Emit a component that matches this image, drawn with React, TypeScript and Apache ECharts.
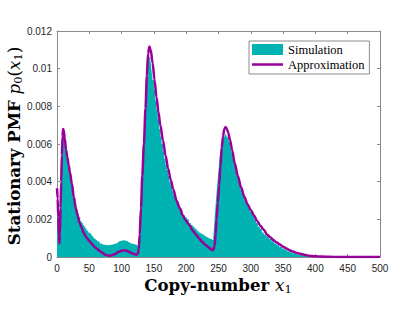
import React, { useEffect, useRef } from "react";
import * as echarts from "echarts";

// ---- Data ----
const xTickValues = [0, 50, 100, 150, 200, 250, 300, 350, 400, 450, 500];
const yTickLabels = ["0", "0.002", "0.004", "0.006", "0.008", "0.01", "0.012"];

// Approximation curve p0(x1)
const approxX = [
  0, 1, 2, 3, 3.7, 4.5, 5.5, 6.5, 7.5, 8.5, 9.5, 10.5, 12, 14, 16, 18, 20, 23, 26, 29,
  32, 35, 38, 41, 44, 47, 50, 54, 58, 62, 66, 70, 75, 80, 85, 90, 95, 100, 104, 108,
  112, 116, 120, 123, 125, 126.5, 128, 130, 132, 134.5, 137, 139, 141, 143, 145, 148, 151, 154, 157, 160,
  164, 168, 172, 176, 180, 185, 190, 195, 200, 205, 210, 215, 220, 225, 230, 235, 239, 242, 244, 245.5,
  247, 249, 251, 253, 255, 257, 259, 261, 263, 265, 268, 271, 275, 280, 285, 290, 295, 300, 305, 310,
  315, 320, 325, 330, 335, 340, 345, 350, 355, 360, 365, 370, 375, 380, 385, 390, 395, 400, 410, 420,
  440, 500,
];
const approxY = [
  0.00365, 0.0031, 0.0021, 0.0011, 0.00073, 0.0012, 0.0026, 0.004, 0.0054, 0.0064, 0.0068, 0.0067, 0.0063, 0.0057, 0.0053, 0.0049, 0.0045, 0.0039, 0.0032, 0.0026,
  0.0022, 0.0018, 0.00158, 0.0013, 0.00112, 0.00097, 0.00085, 0.00069, 0.00055, 0.00043, 0.00032, 0.00022, 0.00012, 0.00007, 0.00009, 0.00016, 0.00026, 0.00033, 0.00036, 0.00033,
  0.00026, 0.0002, 0.00015, 0.00012, 0.00016, 0.0004, 0.0012, 0.0026, 0.0043, 0.006, 0.0079, 0.0096, 0.0108, 0.01118, 0.011, 0.0103, 0.0094, 0.0085, 0.0077, 0.007,
  0.0062, 0.0054, 0.0047, 0.0041, 0.0036, 0.003, 0.0026, 0.0022, 0.0019, 0.0017, 0.0014, 0.0012, 0.00098, 0.0008, 0.00064, 0.0005, 0.0004, 0.00037, 0.0006, 0.0012,
  0.002, 0.0029, 0.0038, 0.0048, 0.0058, 0.0064, 0.0068, 0.0069, 0.0068, 0.0066, 0.0062, 0.0057, 0.005, 0.0043, 0.0037, 0.0032, 0.0028, 0.0025, 0.0022, 0.0019,
  0.00165, 0.00145, 0.0012, 0.00105, 0.0009, 0.00077, 0.00066, 0.00055, 0.00045, 0.00036, 0.00029, 0.00023, 0.00018, 0.00014, 0.0001, 0.00007, 0.00005, 0.00004, 0.00002, 0.00001,
  0, 0,
];

// Simulation histogram: bin start -> bin height
const histX = [
  0, 1, 2, 3, 4, 5, 6, 7, 8, 9, 10, 11, 12, 14, 16, 18, 20, 22, 24, 26,
  28, 30, 32, 34, 36, 38, 40, 42, 44, 46, 48, 50, 52, 54, 56, 58, 60, 62, 64, 66,
  68, 70, 72, 74, 76, 78, 80, 82, 84, 86, 88, 90, 92, 94, 96, 98, 100, 102, 104, 106,
  108, 110, 112, 114, 116, 118, 120, 122, 124, 126, 127, 128, 129, 130, 131, 132, 133, 134, 135, 136,
  137, 138, 139, 140, 141, 142, 143, 144, 145, 146, 147, 148, 150, 152, 154, 156, 158, 160, 162, 164,
  166, 168, 170, 172, 174, 176, 178, 180, 183, 186, 189, 192, 195, 198, 201, 204, 207, 210, 213, 216,
  219, 222, 225, 228, 231, 234, 237, 240, 242, 243, 244, 245, 246, 247, 248, 249, 250, 251, 252, 253,
  254, 255, 256, 258, 260, 262, 264, 266, 268, 270, 272, 274, 276, 278, 280, 282, 284, 286, 288, 290,
  293, 296, 299, 302, 305, 308, 311, 314, 317, 320, 324, 328, 332, 336, 340, 344, 348, 352, 356, 360,
  364, 368, 372, 376, 380, 385, 390, 395, 400, 410, 500,
];
const histY = [
  0.0036, 0.0029, 0.0018, 0.001, 0.0011, 0.0024, 0.004, 0.0053, 0.0062, 0.0066, 0.0066, 0.0064, 0.0061, 0.0056, 0.0052, 0.0047, 0.0043, 0.0039, 0.0035, 0.0031,
  0.0028, 0.0025, 0.0023, 0.0021, 0.0019, 0.0018, 0.0017, 0.0016, 0.0015, 0.0014, 0.0013, 0.00128, 0.0012, 0.0011, 0.00102, 0.00095, 0.0009, 0.00083, 0.0008, 0.00072,
  0.0007, 0.00066, 0.00064, 0.00066, 0.00062, 0.00064, 0.00063, 0.00066, 0.00064, 0.00068, 0.0007, 0.00072, 0.00075, 0.0008, 0.00084, 0.00087, 0.00085, 0.0009, 0.00086, 0.00088,
  0.00084, 0.0008, 0.00076, 0.00072, 0.00069, 0.0007, 0.00066, 0.00064, 0.0006, 0.0008, 0.0011, 0.0018, 0.0026, 0.0033, 0.0041, 0.0048, 0.0055, 0.0062, 0.0069, 0.0076,
  0.0083, 0.009, 0.0096, 0.0101, 0.0104, 0.0106, 0.0106, 0.0105, 0.0103, 0.01, 0.0097, 0.0094, 0.0089, 0.0083, 0.0078, 0.0073, 0.0068, 0.0064, 0.006, 0.0056,
  0.0052, 0.0049, 0.0046, 0.0043, 0.004, 0.0038, 0.0035, 0.0033, 0.0031, 0.0028, 0.0026, 0.0024, 0.0022, 0.0021, 0.002, 0.0018, 0.0017, 0.0016, 0.0015, 0.0014,
  0.0013, 0.00125, 0.0012, 0.00112, 0.00105, 0.001, 0.00095, 0.0009, 0.0011, 0.0015, 0.002, 0.0025, 0.003, 0.0034, 0.0038, 0.0042, 0.0046, 0.005, 0.0054, 0.0057,
  0.0059, 0.0061, 0.0063, 0.0064, 0.0065, 0.0064, 0.0063, 0.0061, 0.0058, 0.0055, 0.0052, 0.0049, 0.0046, 0.0043, 0.0041, 0.0039, 0.0036, 0.0034, 0.0032, 0.003,
  0.0028, 0.0026, 0.0024, 0.0022, 0.002, 0.0018, 0.0016, 0.0015, 0.0013, 0.0012, 0.0011, 0.00095, 0.00083, 0.00072, 0.00062, 0.00053, 0.00045, 0.00038, 0.00031, 0.00025,
  0.0002, 0.00016, 0.00012, 0.00009, 0.00007, 0.00005, 0.00003, 0.00002, 0.00001, 0, 0,
];

const TEAL = "#00b2b2";
const PURPLE = "#990099";
const AXIS = "#8c8c8c";
const LABEL = "#262626";

export default function App() {
  const ref = useRef<HTMLDivElement>(null);

  useEffect(() => {
    if (!ref.current) return;
    const chart = echarts.init(ref.current, null, { renderer: "svg" });

    const axisLine = { show: true, onZero: false, lineStyle: { color: AXIS, width: 1 } };
    const axisTick = { show: true, inside: true, length: 3, lineStyle: { color: AXIS, width: 1 } };
    const tickLabel = { color: LABEL, fontFamily: "Liberation Sans", fontSize: 10 };

    const serif = "DejaVu Serif";
    const richTitle = {
      b: { fontFamily: serif, fontWeight: "bold", fontSize: 16.6, lineHeight: 20, color: "#000" },
      i: { fontFamily: serif, fontStyle: "italic", fontSize: 16.6, lineHeight: 20, color: "#000" },
      r: { fontFamily: serif, fontSize: 16.6, lineHeight: 20, color: "#000" },
      s: { fontFamily: serif, fontSize: 11.5, lineHeight: 8, verticalAlign: "bottom", color: "#000" },
    };

    chart.setOption({
      animation: false,
      backgroundColor: "#fff",
      grid: { left: 57, right: 35, top: 31, bottom: 63, containLabel: false },
      xAxis: [
        {
          type: "value",
          min: 0,
          max: 500,
          interval: 50,
          position: "bottom",
          axisLine,
          axisTick,
          splitLine: { show: false },
          axisLabel: {
            ...tickLabel,
            margin: 6,
            formatter: (v: number) => {
              const i = xTickValues.indexOf(v);
              return i >= 0 ? String(xTickValues[i]) : "";
            },
          },
        },
        {
          type: "value",
          min: 0,
          max: 500,
          interval: 50,
          position: "top",
          axisLine,
          axisTick,
          splitLine: { show: false },
          axisLabel: { show: false },
        },
      ],
      yAxis: [
        {
          type: "value",
          min: 0,
          max: 0.012,
          interval: 0.002,
          position: "left",
          axisLine,
          axisTick,
          splitLine: { show: false },
          axisLabel: {
            ...tickLabel,
            margin: 5,
            formatter: (v: number) => yTickLabels[Math.round(v / 0.002)] ?? "",
          },
        },
        {
          type: "value",
          min: 0,
          max: 0.012,
          interval: 0.002,
          position: "right",
          axisLine,
          axisTick,
          splitLine: { show: false },
          axisLabel: { show: false },
        },
      ],
      legend: {
        orient: "vertical",
        left: 249,
        top: 41,
        backgroundColor: "#fff",
        borderColor: AXIS,
        borderWidth: 1,
        borderRadius: 0,
        padding: [2, 5, 3, 3],
        itemWidth: 31,
        itemHeight: 11,
        itemGap: 2,
        selectedMode: false,
        textStyle: { fontFamily: "Liberation Serif", fontSize: 12.5, color: "#000", lineHeight: 13 },
        data: [
          { name: "Simulation", icon: "rect" },
          { name: "Approximation", icon: "path://M0,0H31V2.5H0Z" },
        ],
      },
      series: [
        {
          name: "Simulation",
          type: "line",
          step: "end",
          xAxisIndex: 0,
          yAxisIndex: 0,
          data: histX.map((x, i) => [x, histY[i]]),
          symbol: "none",
          showSymbol: false,
          lineStyle: { width: 0, color: TEAL },
          itemStyle: { color: TEAL },
          areaStyle: { color: TEAL, opacity: 1 },
          z: 2,
        },
        {
          name: "Approximation",
          type: "line",
          xAxisIndex: 0,
          yAxisIndex: 0,
          data: approxX.map((x, i) => [x, approxY[i]]),
          symbol: "none",
          showSymbol: false,
          smooth: 0.3,
          smoothMonotone: "x",
          lineStyle: { width: 2.5, color: PURPLE },
          itemStyle: { color: PURPLE },
          z: 3,
        },
      ],
      graphic: [
        {
          type: "text",
          x: 218,
          y: 285,
          style: {
            text: "{b|Copy-number }{i|x}{s|1}",
            align: "center",
            verticalAlign: "middle",
            textAlign: "center",
            textVerticalAlign: "middle",
            rich: richTitle,
          },
        },
        {
          type: "text",
          x: 14,
          y: 146,
          rotation: Math.PI / 2,
          style: {
            text: "{b|Stationary PMF }{i|p}{s|0}{r|(}{i|x}{s|1}{r|)}",
            align: "center",
            verticalAlign: "middle",
            textAlign: "center",
            textVerticalAlign: "middle",
            rich: richTitle,
          },
        },
      ],
    });

    return () => chart.dispose();
  }, []);

  return (
    <div
      ref={ref}
      style={{ position: "absolute", left: 0, top: 0, width: 415, height: 320 }}
    />
  );
}
